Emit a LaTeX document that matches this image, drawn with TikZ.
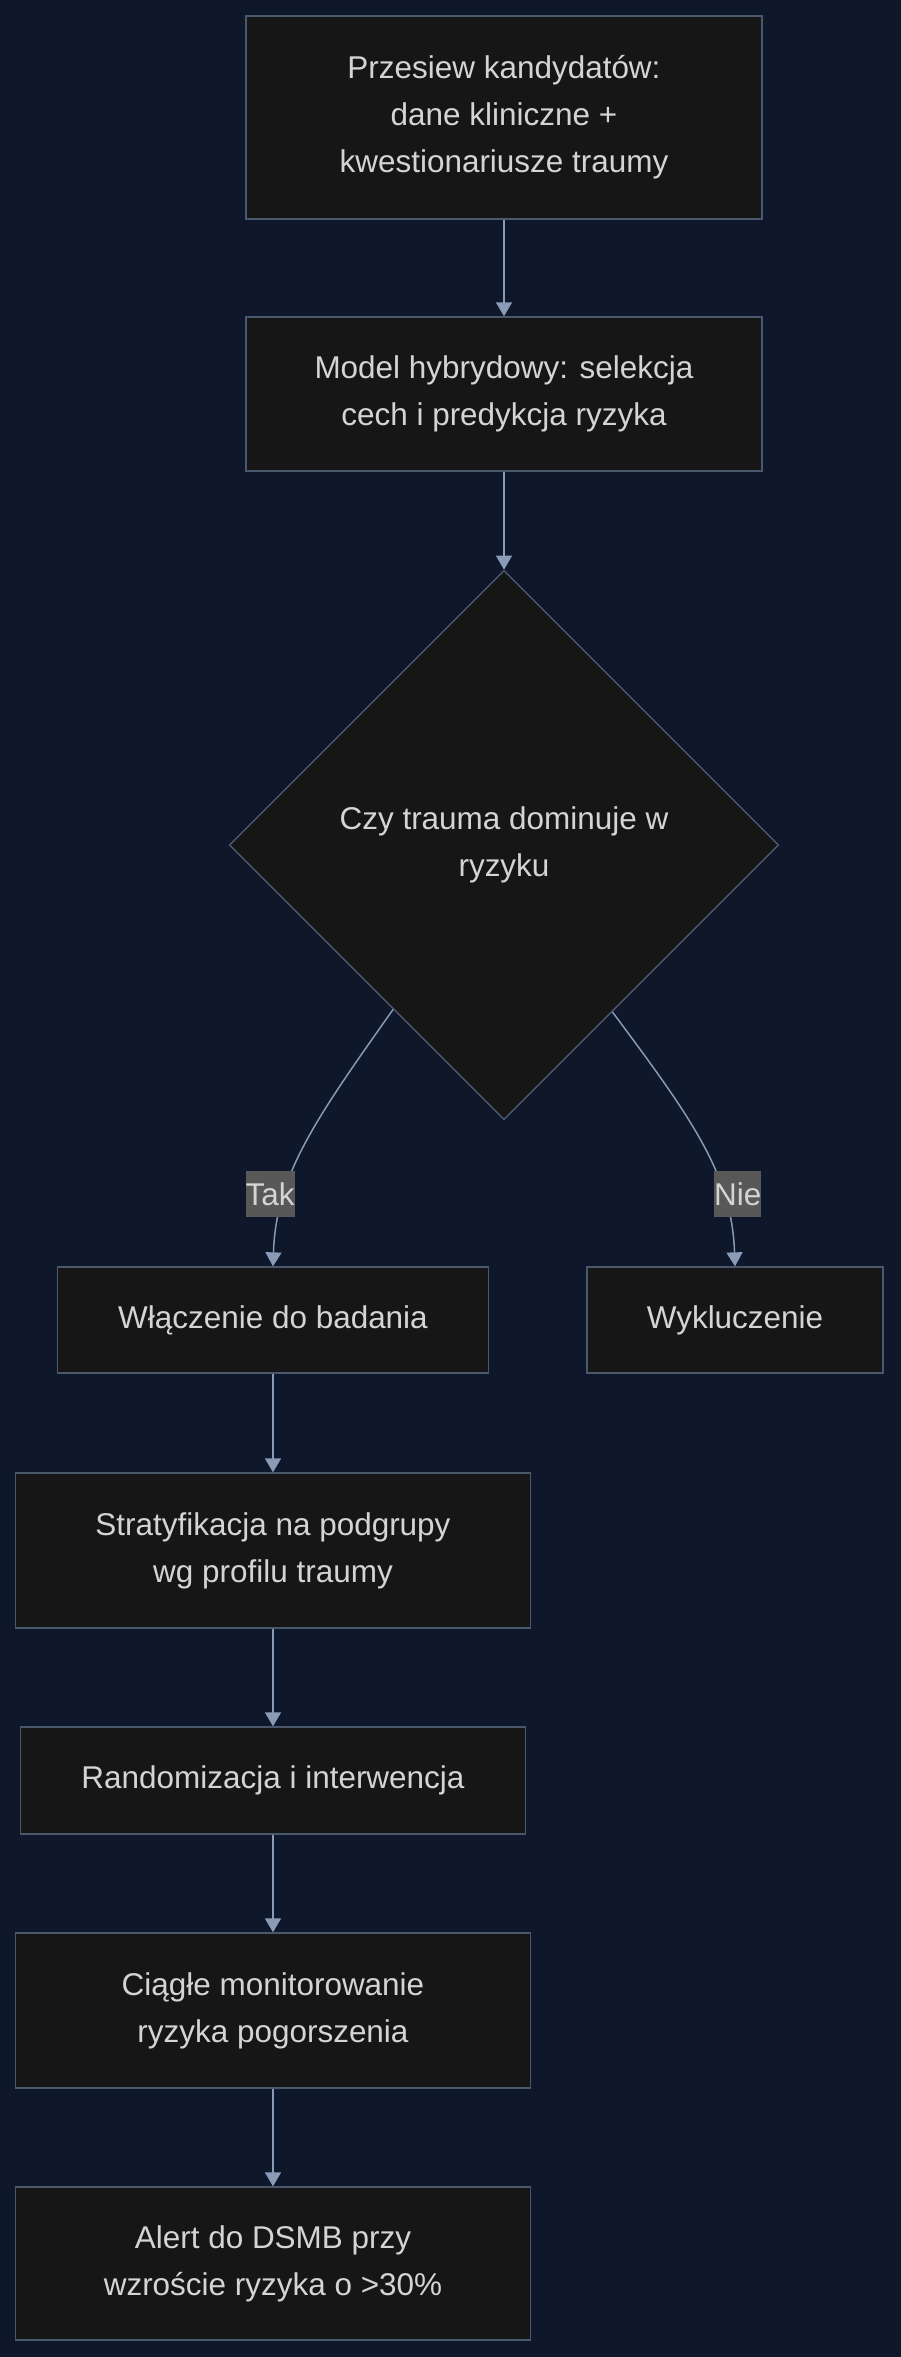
\documentclass[tikz,border=0pt]{standalone}
\usepackage{fontspec}
\setmainfont{Liberation Sans}
\usepackage{tikz}
\usetikzlibrary{arrows.meta,shapes.geometric}
\definecolor{bgnavy}{RGB}{15,23,42}
\definecolor{boxfill}{RGB}{22,22,22}
\definecolor{boxline}{RGB}{74,88,110}
\definecolor{flowline}{RGB}{138,155,183}
\definecolor{boxtext}{RGB}{212,212,212}
\definecolor{lblfill}{RGB}{88,88,88}

\begin{document}
\begin{tikzpicture}[
    x=0.75pt, y=-0.75pt,
    every node/.style={font=\fontsize{23.6}{35.25}\selectfont, text=boxtext},
    box/.style={draw=boxline, line width=1pt, fill=boxfill, align=center, inner sep=0pt},
    decision/.style={diamond, draw=boxline, line width=1pt, fill=boxfill, align=center, inner sep=0pt, minimum width=412pt, minimum height=412pt},
    lbl/.style={fill=lblfill, inner xsep=0pt, inner ysep=0pt, minimum height=34.5pt},
    flow/.style={draw=flowline, line width=1.1pt, -{Triangle[length=10.5pt, width=12pt]}},
]
\useasboundingbox (0,0) rectangle (900,2357);
\fill[bgnavy] (-10,-10) rectangle (910,2367);

\node[box, minimum width=387pt, minimum height=152.25pt] (screen) at (504,117.5) {Przesiew kandydatów:\\dane kliniczne +\\kwestionariusze traumy};
\node[box, minimum width=387pt, minimum height=115.5pt] (hybrid) at (504,394) {Model hybrydowy: selekcja\\cech i predykcja ryzyka};
\node[decision] (dec) at (504,845) {Czy trauma dominuje w\\ryzyku};
\node[box, minimum width=323.25pt, minimum height=79.5pt] (incl) at (273,1320) {Włączenie do badania};
\node[box, minimum width=222pt, minimum height=79.5pt] (excl) at (735,1320) {Wykluczenie};
\node[box, minimum width=386.25pt, minimum height=116.25pt] (strat) at (273,1550.5) {Stratyfikacja na podgrupy\\wg profilu traumy};
\node[box, minimum width=378.75pt, minimum height=80.25pt] (rand) at (273,1780.5) {Randomizacja i interwencja};
\node[box, minimum width=386.25pt, minimum height=116.25pt] (monit) at (273,2010.5) {Ciągłe monitorowanie\\ryzyka pogorszenia};
\node[box, minimum width=386.25pt, minimum height=114.75pt] (alert) at (273,2263.5) {Alert do DSMB przy\\wzroście ryzyka o >30\%};

\draw[flow] (screen) -- (hybrid);
\draw[flow] (hybrid) -- (dec);
\draw[flow] (dec.236.5) .. controls (315,1120) and (276,1175) .. (incl.north) node[lbl, pos=0.71, xshift=-11pt] {Tak};
\draw[flow] (dec.303.5) .. controls (693,1120) and (732,1175) .. (excl.north) node[lbl, pos=0.71, xshift=11pt] {Nie};
\draw[flow] (incl) -- (strat);
\draw[flow] (strat) -- (rand);
\draw[flow] (rand) -- (monit);
\draw[flow] (monit) -- (alert);
\end{tikzpicture}
\end{document}
